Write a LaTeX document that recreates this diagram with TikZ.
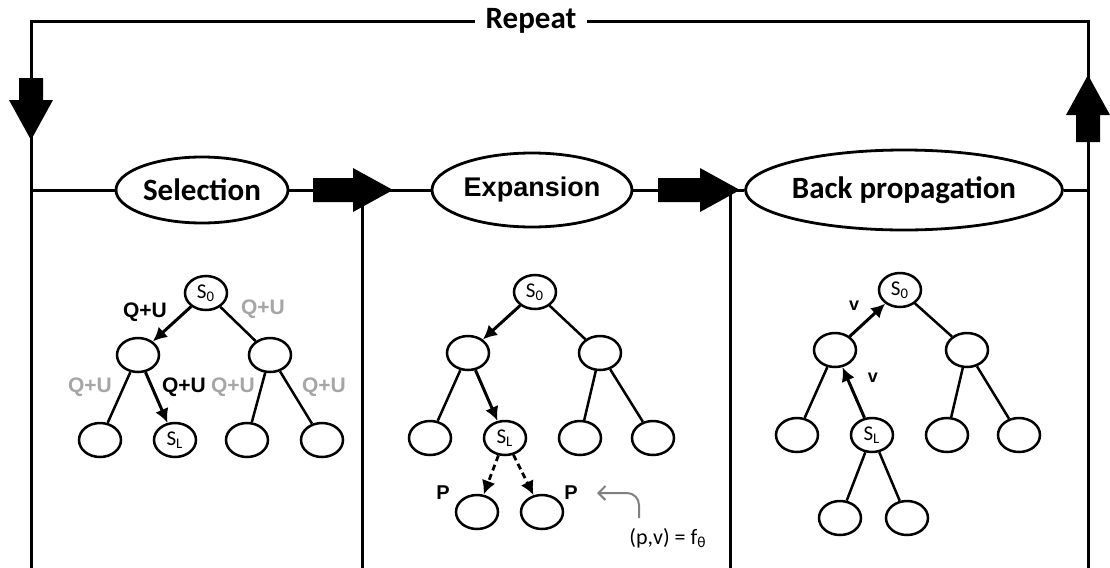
\documentclass[tikz,border=0pt]{standalone}
\usepackage{fontspec}
\setmainfont{Carlito}
\newfontfamily\arialfont{Liberation Sans}
\usetikzlibrary{arrows.meta,shapes.geometric}
\tikzset{
	>={Latex[length=7pt,width=7pt]},
	frame/.style={draw, line width=1.5pt},
	rep/.style={fill=white, inner xsep=5pt, inner ysep=2pt,
		font=\bfseries\fontsize{15.5}{18}\selectfont},
	phase/.style={
		ellipse,
		draw, fill=white,
		line width=1.4pt,
		inner sep=0pt,
		font=\bfseries\fontsize{15.5}{18}\selectfont},
	tnode/.style={
		ellipse,
		draw, fill=white,
		line width=1.25pt,
		minimum width=21pt,
		minimum height=17pt,
		inner sep=0pt,
		font=\fontsize{10.5}{12}\selectfont},
	tedge/.style={draw, line width=1.25pt},
	tpath/.style={->, line width=1.5pt},
	tdash/.style={->, line width=1.4pt, dash pattern=on 3pt off 2pt},
	qu/.style={font=\arialfont\bfseries\fontsize{10.5}{12}\selectfont, text=black!35},
	quon/.style={qu, text=black},
	plab/.style={font=\arialfont\bfseries\fontsize{10}{12}\selectfont},
	vlab/.style={font=\arialfont\bfseries\fontsize{9}{11}\selectfont},
	pvarrow/.style={-{Straight Barb[length=3.5pt,width=7pt]}, draw=black!50, line width=1pt, rounded corners=6pt},
	pics/fatarrow/.style={code={
		\fill (0,-12) -- (#1,-12) -- (#1,-22) -- ({#1+40},0) -- (#1,22) -- (#1,12) -- (0,12) -- cycle;
	}},
}

\begin{document}
\begin{tikzpicture}[x=0.5pt,y=-0.5pt]
	\useasboundingbox (0,0) rectangle (1110,568);
	% frame
	\coordinate (tl) at (31,21);
	\coordinate (tr) at (1088,21);
	\coordinate (bl) at (31,568);
	\coordinate (br) at (1088,568);
	\coordinate (hl) at (31,190);
	\coordinate (hr) at (1088,190);
	\coordinate (d1t) at (362,190);
	\coordinate (d1b) at (362,568);
	\coordinate (d2t) at (730,190);
	\coordinate (d2b) at (730,568);
	\node[rep] (rep) at (531,21) {Repeat};
	\draw[frame] (bl) -- (tl) -- (rep);
	\draw[frame] (rep) -- (tr) -- (br);
	% phases
	\node[phase, minimum width=86pt, minimum height=33pt] (sel) at (202,190) {Selection};
	\node[phase, minimum width=100pt, minimum height=37pt,
		font=\arialfont\bfseries\fontsize{13.5}{16}\selectfont] (exp) at (532,190) {Expansion};
	\node[phase, minimum width=141pt, minimum height=40pt] (bp) at (904,190) {Back propagation};
	\draw[frame] (hl) -- (sel) (sel) -- (exp) (exp) -- (bp) (bp) -- (hr);
	\draw[frame] (d1t) -- (d1b) (d2t) -- (d2b);
	\pic at (313,190) {fatarrow=40};
	\pic at (658,190) {fatarrow=42};
	\pic[rotate=-90] at (31,78) {fatarrow=22};
	\pic[rotate=90] at (1088,142) {fatarrow=27};

	% selection tree
	\node[tnode] (a0) at (206,293) {S\textsubscript{0}};
	\node[tnode] (a1) at (138,355) {};
	\node[tnode] (a2) at (270,355) {};
	\node[tnode] (a3) at (100,440) {};
	\node[tnode] (a4) at (175,440) {S\textsubscript{L}};
	\node[tnode] (a5) at (247,440) {};
	\node[tnode] (a6) at (322,440) {};
	\draw[tpath] (a0) -- (a1);
	\draw[tedge] (a0) -- (a2);
	\draw[tedge] (a1) -- (a3);
	\draw[tpath] (a1) -- (a4);
	\draw[tedge] (a2) -- (a5) (a2) -- (a6);
	\node[quon] (qa) at (145,312) {Q+U};
	\node[qu] (qb) at (263,309) {Q+U};
	\node[qu] (qc) at (90,387) {Q+U};
	\node[quon] (qd) at (184,387) {Q+U};
	\node[qu] (qe) at (233,387) {Q+U};
	\node[qu] (qf) at (324,387) {Q+U};

	% expansion tree
	\node[tnode] (b0) at (535,292) {S\textsubscript{0}};
	\node[tnode] (b1) at (468,353) {};
	\node[tnode] (b2) at (600,353) {};
	\node[tnode] (b3) at (430,438) {};
	\node[tnode] (b4) at (505,438) {S\textsubscript{L}};
	\node[tnode] (b5) at (580,438) {};
	\node[tnode] (b6) at (653,438) {};
	\node[tnode] (b7) at (477,512) {};
	\node[tnode] (b8) at (542,512) {};
	\draw[tpath] (b0) -- (b1);
	\draw[tedge] (b0) -- (b2);
	\draw[tedge] (b1) -- (b3);
	\draw[tpath] (b1) -- (b4);
	\draw[tedge] (b2) -- (b5) (b2) -- (b6);
	\draw[tdash] (b4) -- (b7);
	\draw[tdash] (b4) -- (b8);
	\node[plab] (pl) at (443,493) {P};
	\node[plab] (pr) at (571,493) {P};
	\node[font=\fontsize{11}{13}\selectfont] (pv) at (668,538) {(p,v) = f\textsubscript{θ}};
	\coordinate (pvtop) at (639,518);
	\coordinate (ptip) at (597,493);
	\draw[pvarrow] (pvtop) |- (ptip);

	% back propagation tree
	\node[tnode] (c0) at (900,290) {S\textsubscript{0}};
	\node[tnode] (c1) at (835,350) {};
	\node[tnode] (c2) at (967,350) {};
	\node[tnode] (c3) at (797,435) {};
	\node[tnode] (c4) at (872,435) {S\textsubscript{L}};
	\node[tnode] (c5) at (947,435) {};
	\node[tnode] (c6) at (1019,435) {};
	\node[tnode] (c7) at (840,518) {};
	\node[tnode] (c8) at (907,518) {};
	\draw[tpath] (c1) -- (c0);
	\draw[tedge] (c0) -- (c2);
	\draw[tedge] (c1) -- (c3);
	\draw[tpath] (c4) -- (c1);
	\draw[tedge] (c2) -- (c5) (c2) -- (c6);
	\draw[tedge] (c4) -- (c7) (c4) -- (c8);
	\node[vlab] (va) at (854,306) {v};
	\node[vlab] (vb) at (873,378) {v};
\end{tikzpicture}
\end{document}
